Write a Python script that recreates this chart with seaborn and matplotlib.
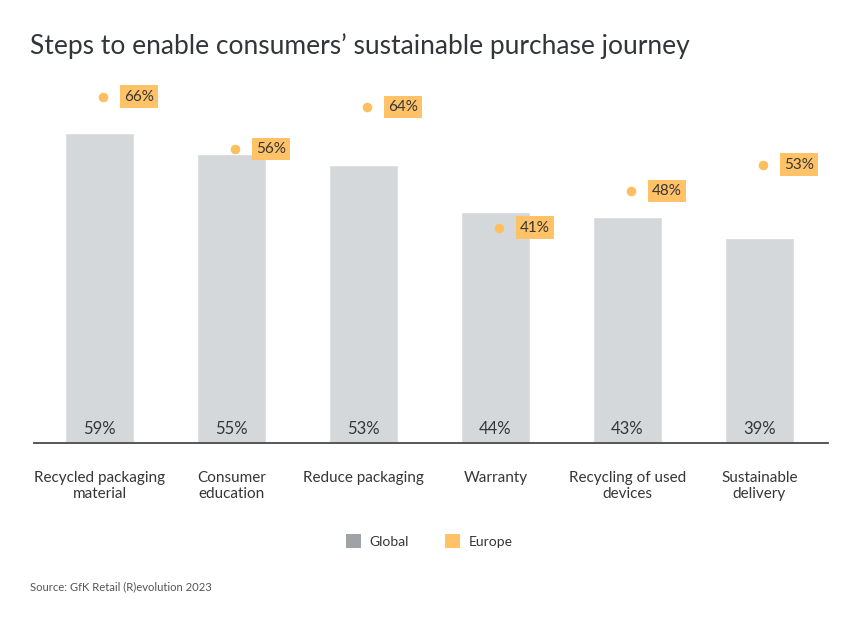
import numpy as np
import pandas as pd
import matplotlib
matplotlib.use("Agg")
import matplotlib.pyplot as plt
from matplotlib.patches import Patch
import seaborn as sns

categories = ["Recycled packaging\nmaterial", "Consumer\neducation", "Reduce packaging",
              "Warranty", "Recycling of used\ndevices", "Sustainable\ndelivery"]
global_vals = [59, 55, 53, 44, 43, 39]
europe_vals = [66, 56, 64, 41, 48, 53]

bar_color = "#d5d8db"
legend_gray = "#9ea3a8"
orange = "#ffc266"
dot_color = "#fdbf5f"
text_color = "#363636"

sns.set_style("white")
plt.rcParams["font.family"] = ["Lato", "DejaVu Sans"]

df = pd.DataFrame({"category": categories, "Global": global_vals, "Europe": europe_vals})

fig = plt.figure(figsize=(8.58, 6.23), dpi=100)
ax = fig.add_axes([0.0396, 0.2889, 0.9254, 0.5899])

sns.barplot(data=df, x="category", y="Global", color=bar_color, width=0.52,
            saturation=1, ax=ax)

xs = np.arange(len(categories))
ax.scatter(xs + 0.03, df["Europe"], s=48, color=dot_color, zorder=3, linewidths=0)

for x, g, e in zip(xs, global_vals, europe_vals):
    ax.text(x, 2.6, f"{g}%", ha="center", va="center", fontsize=12, color=text_color)
    ax.annotate(f"{e}%", (x + 0.03, e), xytext=(15, 0), textcoords="offset points",
                ha="left", va="center", fontsize=11, color=text_color,
                bbox=dict(boxstyle="square,pad=0.28", fc=orange, ec="none"))

ax.set_xlim(-0.496, 5.52)
ax.set_ylim(0, 70)
ax.set_xlabel("")
ax.set_ylabel("")
ax.set_yticks([])
ax.tick_params(axis="x", length=0, pad=20.5, labelsize=11, labelcolor=text_color)
for lab in ax.get_xticklabels():
    lab.set_linespacing(1.1)
for s in ["top", "right", "left"]:
    ax.spines[s].set_visible(False)
ax.spines["bottom"].set_color("#4a4a4a")
ax.spines["bottom"].set_linewidth(1.3)

fig.text(0.035, 0.926, "Steps to enable consumers\u2019 sustainable purchase journey",
         fontsize=19, color="#32363b", ha="left", va="center")

handles = [Patch(facecolor=legend_gray, edgecolor="none", label="Global"),
           Patch(facecolor=orange, edgecolor="none", label="Europe")]
fig.legend(handles=handles, loc="center", bbox_to_anchor=(0.5, 1 - 541 / 623), ncol=2,
           frameon=False, fontsize=10, handlelength=1.1, handleheight=1.1,
           handletextpad=0.6, columnspacing=2.6, labelcolor=text_color)

fig.text(0.035, 1 - 587 / 623, "Source: GfK Retail (R)evolution 2023", fontsize=8.1,
         color="#555555", ha="left", va="center")

fig.savefig("out.png", dpi=100, facecolor="white")
